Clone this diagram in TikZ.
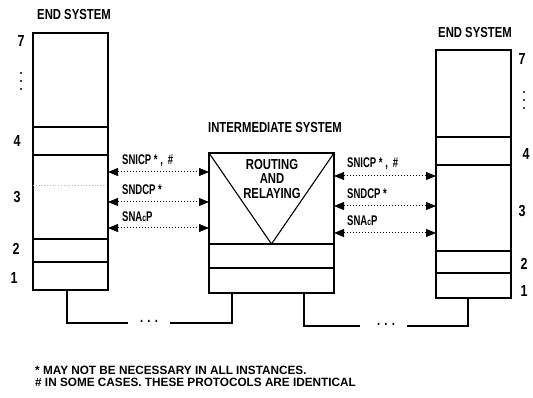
\documentclass[tikz,border=0pt]{standalone}
\usepackage{fontspec}
\setmainfont{Liberation Sans}
\newfontfamily\narrowfont{Liberation Sans}[FakeStretch=0.78]
\newfontfamily\tightfont{Liberation Sans}[FakeStretch=0.68]
\newfontfamily\notefont{Liberation Sans}[FakeStretch=0.98]
\usetikzlibrary{arrows.meta}
\begin{document}
\begin{tikzpicture}[x=1pt,y=-1pt,
  lay/.style={draw,line width=1.3pt,rectangle,inner sep=0pt,outer sep=0pt,anchor=north west},
  lbl/.style={font=\narrowfont\bfseries\fontsize{14.5}{14.5}\selectfont,inner sep=0pt},
  plbl/.style={font=\tightfont\bfseries\fontsize{14}{14}\selectfont,inner sep=0pt,anchor=west},
  num/.style={font=\narrowfont\bfseries\fontsize{16}{16}\selectfont,inner sep=0pt},
  vdot/.style={fill,circle,inner sep=0pt,minimum size=2.2pt},
  note/.style={font=\notefont\bfseries\fontsize{12}{12}\selectfont,inner sep=0pt,anchor=west},
  proto/.style={dotted,line width=1pt,{Triangle[length=10pt,width=8pt]}-{Triangle[length=10pt,width=8pt]}},
  bus/.style={line width=2pt}]
\useasboundingbox (0,0) rectangle (533,398);

% left end system
\node[lay,minimum width=75pt,minimum height=94pt] (LL7) at (33,33) {};
\node[lay,minimum width=75pt,minimum height=28pt] (LL4) at (33,127) {};
\node[lay,minimum width=75pt,minimum height=84pt] (LL3) at (33,155) {};
\node[lay,minimum width=75pt,minimum height=23pt] (LL2) at (33,239) {};
\node[lay,minimum width=75pt,minimum height=28pt] (LL1) at (33,262) {};
\coordinate (fy) at (0,185);
\draw[gray!50,dotted,line width=0.8pt] (LL3.west |- fy) -- (LL3.east |- fy);

% right end system
\node[lay,minimum width=75pt,minimum height=87pt] (RL7) at (436,50) {};
\node[lay,minimum width=75pt,minimum height=28pt] (RL4) at (436,137) {};
\node[lay,minimum width=75pt,minimum height=86pt] (RL3) at (436,165) {};
\node[lay,minimum width=75pt,minimum height=22pt] (RL2) at (436,251) {};
\node[lay,minimum width=75pt,minimum height=25pt] (RL1) at (436,273) {};

% intermediate system
\node[lay,minimum width=125pt,minimum height=91pt] (IS3) at (209,153) {};
\node[lay,minimum width=125pt,minimum height=24pt] (IS2) at (209,244) {};
\node[lay,minimum width=125pt,minimum height=25pt] (IS1) at (209,268) {};
\draw[line width=1.1pt] (IS3.north west) -- (IS3.south) -- (IS3.north east);

% headings
\node[lbl] (h1) at (74,15) {END SYSTEM};
\node[lbl] (h2) at (475,33) {END SYSTEM};
\node[lbl] (h3) at (275,128) {INTERMEDIATE SYSTEM};
\node[lbl,align=center] (rr) at (272,179) {ROUTING\\[0pt]AND\\RELAYING};

% layer numbers
\node[num] (nl7) at (21,41) {7};
\node[vdot] (nld1) at (21,73) {};
\node[vdot] (nld2) at (21,81) {};
\node[vdot] (nld3) at (21,89) {};
\node[num] (nl4) at (17,141) {4};
\node[num] (nl3) at (17,197) {3};
\node[num] (nl2) at (16,249) {2};
\node[num] (nl1) at (14,278) {1};
\node[num] (nr7) at (522,59) {7};
\node[vdot] (nrd1) at (524,92) {};
\node[vdot] (nrd2) at (524,100) {};
\node[vdot] (nrd3) at (524,108) {};
\node[num] (nr4) at (526,154) {4};
\node[num] (nr3) at (522,211) {3};
\node[num] (nr2) at (524,264) {2};
\node[num] (nr1) at (524,291) {1};

% protocol arrows, left
\coordinate (ya) at (0,172);
\coordinate (yb) at (0,202);
\coordinate (yc) at (0,228);
\draw[proto] (LL3.east |- ya) -- (IS3.west |- ya);
\draw[proto] (LL3.east |- yb) -- (IS3.west |- yb);
\draw[proto] (LL3.east |- yc) -- (IS3.west |- yc);
\node[plbl] (pl1) at (122,161) {SNICP * ,\, \#};
\node[plbl] (pl2) at (122,190) {SNDCP *};
\node[plbl] (pl3) at (122,217) {SNA{\fontsize{10}{10}\selectfont c}P};

% protocol arrows, right
\coordinate (yd) at (0,176);
\coordinate (ye) at (0,206);
\coordinate (yf) at (0,233);
\draw[proto] (IS3.east |- yd) -- (RL3.west |- yd);
\draw[proto] (IS3.east |- ye) -- (RL3.west |- ye);
\draw[proto] (IS3.east |- yf) -- (RL3.west |- yf);
\node[plbl] (pr1) at (347,164) {SNICP * ,\, \#};
\node[plbl] (pr2) at (347,194) {SNDCP *};
\node[plbl] (pr3) at (347,221) {SNA{\fontsize{10}{10}\selectfont c}P};

% subnetwork connections
\coordinate (lx) at (67,0);
\coordinate (b1a) at (128,323);
\coordinate (b1b) at (170,323);
\coordinate (mx1) at (232,0);
\node[lbl] (d1) at (149,321) {. . .};
\draw[bus] (LL1.south -| lx) |- (b1a);
\draw[bus] (b1b) -| (IS1.south -| mx1);
\coordinate (mx2) at (304,0);
\coordinate (b2a) at (360,326);
\coordinate (b2b) at (407,326);
\coordinate (rx) at (468,0);
\node[lbl] (d2) at (386,324) {. . .};
\draw[bus] (IS1.south -| mx2) |- (b2a);
\draw[bus] (b2b) -| (RL1.south -| rx);

% footnotes
\node[note] (f1) at (35,370) {* MAY NOT BE NECESSARY IN ALL INSTANCES.};
\node[note] (f2) at (35,382) {\# IN SOME CASES. THESE PROTOCOLS ARE IDENTICAL};
\end{tikzpicture}
\end{document}
